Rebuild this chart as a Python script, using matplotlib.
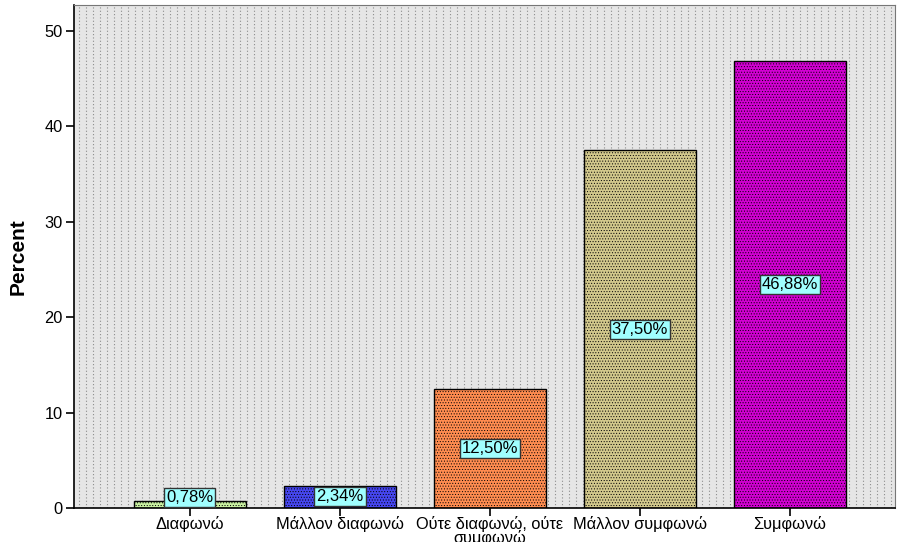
import numpy as np
import matplotlib
matplotlib.use("Agg")
from matplotlib import pyplot as plt

categories = ["Διαφωνώ", "Μάλλον διαφωνώ", "Ούτε διαφωνώ, ούτε\nσυμφωνώ",
              "Μάλλον συμφωνώ", "Συμφωνώ"]
percent = [0.78, 2.34, 12.50, 37.50, 46.88]
labels = ["0,78%", "2,34%", "12,50%", "37,50%", "46,88%"]
colors = ["#c8f0a0", "#4646f0", "#ff8c50", "#d2c88c", "#d200d2"]
yticks = [0, 10, 20, 30, 40, 50]

plt.rcParams['font.family'] = ['Liberation Sans', 'DejaVu Sans']
plt.rcParams['hatch.linewidth'] = 0.4

fig = plt.figure(figsize=(8.97, 5.42), dpi=100)
ax = fig.add_axes([0.0825, 0.0627, 0.915, 0.928])

# fond gris avec lignes verticales pointillees
ax.set_facecolor("#e6e6e6")
xlim = (-0.773, 4.7)
ylim = (0, 52.7)
ax.vlines(np.arange(xlim[0] + 0.03, xlim[1], 0.0467), ylim[0], ylim[1],
          colors="#8c8c8c", linestyles=(0, (1, 2)), linewidth=0.8, zorder=0)

x = np.arange(len(categories))
bars = ax.bar(x, percent, width=0.75, color=colors, edgecolor="black",
              linewidth=1.0, hatch="......", zorder=2)

for i in range(len(percent)):
    ypos = max(percent[i] / 2, 1.1)
    ax.text(x[i], ypos, labels[i], ha="center", va="center", fontsize=12,
            zorder=3,
            bbox=dict(boxstyle="square,pad=0.12", facecolor="#a0ffff",
                      edgecolor="#333333", linewidth=1.0))

ax.set_xlim(xlim)
ax.set_ylim(ylim)
ax.set_xticks(x)
ax.set_xticklabels(categories, fontsize=11.8, linespacing=0.8)
ax.set_yticks(yticks)
ax.tick_params(axis="y", labelsize=11.8, length=6, width=1.2, direction="out",
               pad=2)
ax.tick_params(axis="x", length=6, width=1.2, direction="out", pad=0)
ax.set_ylabel("Percent", fontsize=15, fontweight="bold")
ax.yaxis.set_label_coords(-0.057, 0.5)

ax.spines["left"].set_linewidth(1.2)
ax.spines["bottom"].set_linewidth(1.2)
ax.spines["top"].set_color("#777777")
ax.spines["right"].set_color("#777777")

fig.savefig("out.png", dpi=100)
